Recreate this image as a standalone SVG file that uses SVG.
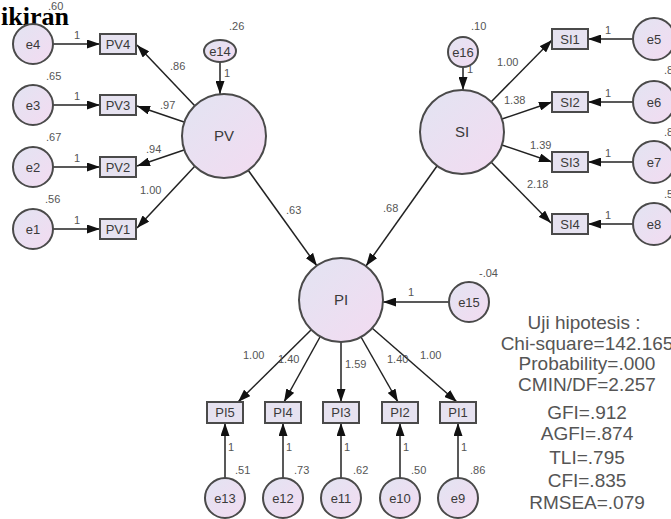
<svg xmlns="http://www.w3.org/2000/svg" width="671" height="519" viewBox="0 0 671 519">
<style>
.n{stroke:#4a4a4a;stroke-width:2;fill:url(#g)}
.b{stroke:#4a4a4a;stroke-width:2;fill:#e6e2f0}
.t{font-family:"Liberation Sans",Arial,sans-serif;fill:#3a3a3a;text-anchor:middle}
.lt{font-size:15px}
.et{font-size:13px}
.bt{font-size:13px}
.c{font-family:"Liberation Sans",Arial,sans-serif;font-size:11px;fill:#555}
.s{font-family:"Liberation Sans",Arial,sans-serif;font-size:19px;fill:#555;text-anchor:middle}
.a{stroke:#222;stroke-width:1.5;fill:none;marker-end:url(#m)}
</style>
<defs>
<linearGradient id="g" x1="0" y1="0" x2="1" y2="1">
<stop offset="0" stop-color="#e2e4f2"/>
<stop offset="1" stop-color="#f3dbf1"/>
</linearGradient>
<marker id="m" markerUnits="userSpaceOnUse" markerWidth="13" markerHeight="9" refX="13" refY="4.5" orient="auto">
<path d="M0,0 L13,4.5 L0,9 z" fill="#111"/>
</marker>
</defs>
<rect width="671" height="519" fill="#fff"/>

<g id="connectors">
<line class="a" x1="53" y1="44" x2="100" y2="44"/>
<line class="a" x1="53" y1="105" x2="100" y2="105"/>
<line class="a" x1="53" y1="167" x2="100" y2="167"/>
<line class="a" x1="53" y1="229" x2="100" y2="229"/>
<line class="a" x1="195" y1="106" x2="137" y2="45"/>
<line class="a" x1="184" y1="122" x2="137" y2="106"/>
<line class="a" x1="184" y1="150" x2="137" y2="166"/>
<line class="a" x1="195" y1="166" x2="137" y2="228"/>
<line class="a" x1="220" y1="62" x2="220" y2="94"/>
<line class="a" x1="248" y1="170" x2="317" y2="266"/>
<line class="a" x1="463" y1="67" x2="463" y2="90"/>
<line class="a" x1="491" y1="102" x2="552" y2="40"/>
<line class="a" x1="502" y1="119" x2="552" y2="102"/>
<line class="a" x1="502" y1="145" x2="552" y2="162"/>
<line class="a" x1="491" y1="162" x2="551" y2="223"/>
<line class="a" x1="633" y1="39" x2="588" y2="39"/>
<line class="a" x1="633" y1="102" x2="588" y2="102"/>
<line class="a" x1="633" y1="162" x2="588" y2="162"/>
<line class="a" x1="633" y1="224" x2="588" y2="224"/>
<line class="a" x1="437" y1="166" x2="366" y2="266"/>
<line class="a" x1="449" y1="302" x2="383" y2="302"/>
<line class="a" x1="311" y1="330" x2="238" y2="402"/>
<line class="a" x1="320" y1="337" x2="284" y2="402"/>
<line class="a" x1="341" y1="342" x2="341" y2="402"/>
<line class="a" x1="361" y1="337" x2="398" y2="402"/>
<line class="a" x1="372" y1="328" x2="457" y2="402"/>
<line class="a" x1="225" y1="478" x2="225" y2="423"/>
<line class="a" x1="283" y1="478" x2="283" y2="423"/>
<line class="a" x1="341" y1="478" x2="341" y2="423"/>
<line class="a" x1="400" y1="478" x2="400" y2="423"/>
<line class="a" x1="458" y1="478" x2="458" y2="423"/>
</g>

<g id="labels">
<text class="c" x="48" y="10">.60</text>
<text class="c" x="74" y="39">1</text>
<text class="c" x="46" y="80">.65</text>
<text class="c" x="74" y="100">1</text>
<text class="c" x="46" y="141">.67</text>
<text class="c" x="74" y="162">1</text>
<text class="c" x="45" y="203">.56</text>
<text class="c" x="74" y="224">1</text>
<text class="c" x="170" y="70">.86</text>
<text class="c" x="160" y="109">.97</text>
<text class="c" x="146" y="153">.94</text>
<text class="c" x="140" y="194">1.00</text>
<text class="c" x="229" y="30">.26</text>
<text class="c" x="224" y="77">1</text>
<text class="c" x="286" y="214">.63</text>
<text class="c" x="383" y="212">.68</text>
<text class="c" x="471" y="30">.10</text>
<text class="c" x="467" y="73">1</text>
<text class="c" x="497" y="66">1.00</text>
<text class="c" x="504" y="104">1.38</text>
<text class="c" x="530" y="149">1.39</text>
<text class="c" x="527" y="188">2.18</text>
<text class="c" x="605" y="34">1</text>
<text class="c" x="605" y="97">1</text>
<text class="c" x="605" y="157">1</text>
<text class="c" x="605" y="219">1</text>
<text class="c" x="666" y="37">.7</text>
<text class="c" x="664" y="74">.8</text>
<text class="c" x="664" y="136">.8</text>
<text class="c" x="664" y="198">.5</text>
<text class="c" x="479" y="277">-.04</text>
<text class="c" x="408" y="296">1</text>
<text class="c" x="243" y="359">1.00</text>
<text class="c" x="278" y="363">1.40</text>
<text class="c" x="345" y="368">1.59</text>
<text class="c" x="387" y="363">1.40</text>
<text class="c" x="420" y="359">1.00</text>
<text class="c" x="228" y="451">1</text>
<text class="c" x="286" y="451">1</text>
<text class="c" x="344" y="451">1</text>
<text class="c" x="403" y="451">1</text>
<text class="c" x="461" y="451">1</text>
<text class="c" x="235" y="474">.51</text>
<text class="c" x="294" y="474">.73</text>
<text class="c" x="353" y="474">.62</text>
<text class="c" x="411" y="474">.50</text>
<text class="c" x="470" y="474">.86</text>
</g>

<text x="1" y="25" font-family="'Liberation Serif','Times New Roman',serif" font-size="25" font-weight="bold" fill="#000" textLength="68" lengthAdjust="spacingAndGlyphs">ikiran</text>

<g id="e4"><circle class="n" cx="33" cy="44" r="20"/><text class="t et" x="33" y="49">e4</text></g>
<g id="e3"><circle class="n" cx="33" cy="105" r="20"/><text class="t et" x="33" y="110">e3</text></g>
<g id="e2"><circle class="n" cx="33" cy="167" r="20"/><text class="t et" x="33" y="172">e2</text></g>
<g id="e1"><circle class="n" cx="33" cy="229" r="20"/><text class="t et" x="33" y="234">e1</text></g>
<g id="PV4"><rect class="b" x="100" y="34" width="36" height="20"/><text class="t bt" x="118" y="49">PV4</text></g>
<g id="PV3"><rect class="b" x="100" y="95" width="36" height="20"/><text class="t bt" x="118" y="110">PV3</text></g>
<g id="PV2"><rect class="b" x="100" y="157" width="36" height="20"/><text class="t bt" x="118" y="172">PV2</text></g>
<g id="PV1"><rect class="b" x="100" y="219" width="36" height="20"/><text class="t bt" x="118" y="234">PV1</text></g>
<g id="e14"><ellipse class="n" cx="220" cy="51" rx="16" ry="11"/><text class="t et" x="220" y="56">e14</text></g>
<g id="PV"><circle class="n" cx="224" cy="136" r="42"/><text class="t lt" x="224" y="141">PV</text></g>
<g id="e16"><circle class="n" cx="463" cy="52" r="15"/><text class="t et" x="463" y="57">e16</text></g>
<g id="SI"><circle class="n" cx="462" cy="132" r="42"/><text class="t lt" x="462" y="137">SI</text></g>
<g id="SI1"><rect class="b" x="552" y="29" width="36" height="20"/><text class="t bt" x="570" y="44">SI1</text></g>
<g id="SI2"><rect class="b" x="552" y="92" width="36" height="20"/><text class="t bt" x="570" y="107">SI2</text></g>
<g id="SI3"><rect class="b" x="552" y="152" width="36" height="20"/><text class="t bt" x="570" y="167">SI3</text></g>
<g id="SI4"><rect class="b" x="552" y="214" width="36" height="20"/><text class="t bt" x="570" y="229">SI4</text></g>
<g id="e5"><circle class="n" cx="654" cy="39" r="21"/><text class="t et" x="654" y="44">e5</text></g>
<g id="e6"><circle class="n" cx="654" cy="102" r="21"/><text class="t et" x="654" y="107">e6</text></g>
<g id="e7"><circle class="n" cx="654" cy="162" r="21"/><text class="t et" x="654" y="167">e7</text></g>
<g id="e8"><circle class="n" cx="654" cy="224" r="21"/><text class="t et" x="654" y="229">e8</text></g>
<g id="PI"><circle class="n" cx="341" cy="300" r="42"/><text class="t lt" x="341" y="305">PI</text></g>
<g id="e15"><circle class="n" cx="469" cy="302" r="20"/><text class="t et" x="469" y="307">e15</text></g>
<g id="PI5"><rect class="b" x="207" y="402" width="36" height="21"/><text class="t bt" x="225" y="417">PI5</text></g>
<g id="PI4"><rect class="b" x="265" y="402" width="36" height="21"/><text class="t bt" x="283" y="417">PI4</text></g>
<g id="PI3"><rect class="b" x="323" y="402" width="36" height="21"/><text class="t bt" x="341" y="417">PI3</text></g>
<g id="PI2"><rect class="b" x="382" y="402" width="36" height="21"/><text class="t bt" x="400" y="417">PI2</text></g>
<g id="PI1"><rect class="b" x="440" y="402" width="36" height="21"/><text class="t bt" x="458" y="417">PI1</text></g>
<g id="e13"><circle class="n" cx="225" cy="498" r="20"/><text class="t et" x="225" y="503">e13</text></g>
<g id="e12"><circle class="n" cx="283" cy="498" r="20"/><text class="t et" x="283" y="503">e12</text></g>
<g id="e11"><circle class="n" cx="341" cy="498" r="20"/><text class="t et" x="341" y="503">e11</text></g>
<g id="e10"><circle class="n" cx="400" cy="498" r="20"/><text class="t et" x="400" y="503">e10</text></g>
<g id="e9"><circle class="n" cx="458" cy="498" r="20"/><text class="t et" x="458" y="503">e9</text></g>

<g id="stats">
<text class="s" x="584" y="329">Uji hipotesis :</text>
<text class="s" x="587" y="350">Chi-square=142.165</text>
<text class="s" x="587" y="370">Probability=.000</text>
<text class="s" x="587" y="391">CMIN/DF=2.257</text>
<text class="s" x="587" y="419">GFI=.912</text>
<text class="s" x="587" y="440">AGFI=.874</text>
<text class="s" x="587" y="464">TLI=.795</text>
<text class="s" x="587" y="487">CFI=.835</text>
<text class="s" x="587" y="509">RMSEA=.079</text>
</g>
</svg>
